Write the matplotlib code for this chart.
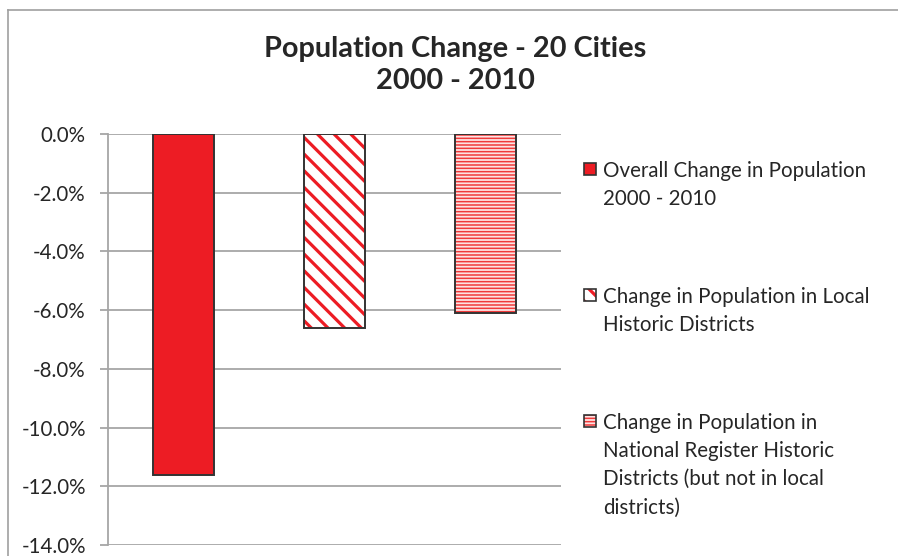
import matplotlib
matplotlib.use("Agg")
import matplotlib.pyplot as plt
from matplotlib.patches import Rectangle
from matplotlib.lines import Line2D
from matplotlib.ticker import FuncFormatter

# ---- data ----
series_labels = [
    "Overall Change in Population\n2000 - 2010",
    "Change in Population in Local\nHistoric Districts",
    "Change in Population in\nNational Register Historic\nDistricts (but not in local\ndistricts)",
]
values = [-11.6, -6.6, -6.1]
positions = [0.5, 1.5, 2.5]
yticks = [0, -2, -4, -6, -8, -10, -12, -14]
title = "Population Change - 20 Cities\n2000 - 2010"

RED = "#ED1C24"
EDGE = "#333333"
GRID = "#A6A6A6"
FONT = "Lato"

plt.rcParams["font.family"] = [FONT, "DejaVu Sans"]

W, H = 898, 556
fig = plt.figure(figsize=(W / 100, H / 100), dpi=100)
ax = fig.add_axes([108 / W, 1 - 545 / H, (561 - 108) / W, (545 - 134) / H])

bw = 0.41
styles = [
    dict(face=RED, hatch=None, hcolor=RED, hlw=1.0),
    dict(face="white", hatch="\\\\", hcolor=RED, hlw=2.3),
    dict(face="#FDE3E3", hatch="-----", hcolor="#F03A3A", hlw=1.1),
]

for x, v, st in zip(positions, values, styles):
    with plt.rc_context({"hatch.linewidth": st["hlw"]}):
        b = ax.bar([x], [v], width=bw, color=st["face"], edgecolor=st["hcolor"],
                   hatch=st["hatch"], linewidth=0, zorder=3)
        for p in b:
            if hasattr(p, "set_hatch_linewidth"):
                p.set_hatch_linewidth(st["hlw"])
    ax.bar([x], [v], width=bw, fill=False, edgecolor=EDGE, linewidth=1.4, zorder=4)

ax.set_xlim(0, 3)
ax.set_ylim(-14, 0)
ax.set_yticks(yticks)
ax.yaxis.set_major_formatter(FuncFormatter(lambda v, p: f"{v:.1f}%"))
ax.set_xticks([])
ax.grid(axis="y", color=GRID, linewidth=1.3, zorder=0)
for s in ["top", "right", "bottom"]:
    ax.spines[s].set_visible(False)
ax.spines["left"].set_color(GRID)
ax.spines["left"].set_linewidth(1.3)
ax.tick_params(axis="y", direction="out", length=6, width=1.3, color=GRID,
               labelsize=14.8, labelcolor="#262626", pad=10)

fig.text(455 / W, 1 - 65 / H, title, ha="center", va="center", fontsize=20.8,
         fontweight="bold", color="#262626", linespacing=1.27)

# legend drawn manually
tops = [161, 287, 413]
for top, lab, st in zip(tops, series_labels, styles):
    fig.text(603 / W, 1 - top / H, lab, ha="left", va="top", fontsize=14.8,
             color="#262626", linespacing=1.51)
    sq = 12
    ry = top + 2
    with plt.rc_context({"hatch.linewidth": st["hlw"]}):
        r = Rectangle((584 / W, 1 - (ry + sq) / H), sq / W, sq / H, transform=fig.transFigure,
                      facecolor=st["face"], edgecolor=st["hcolor"], hatch=st["hatch"],
                      linewidth=0)
        if hasattr(r, "set_hatch_linewidth"):
            r.set_hatch_linewidth(st["hlw"])
    fig.add_artist(r)
    fig.add_artist(Rectangle((584 / W, 1 - (ry + sq) / H), sq / W, sq / H, transform=fig.transFigure,
                             fill=False, edgecolor=EDGE, linewidth=1.2))

# outer chart frame (top and left edges visible)
fig.add_artist(Line2D([7.5 / W, 7.5 / W], [0, 1 - 9.5 / H], transform=fig.transFigure,
                      color="#A0A0A0", linewidth=1.2))
fig.add_artist(Line2D([7.5 / W, 1], [1 - 9.5 / H, 1 - 9.5 / H], transform=fig.transFigure,
                      color="#A0A0A0", linewidth=1.2))

fig.savefig("out.png", dpi=100)
